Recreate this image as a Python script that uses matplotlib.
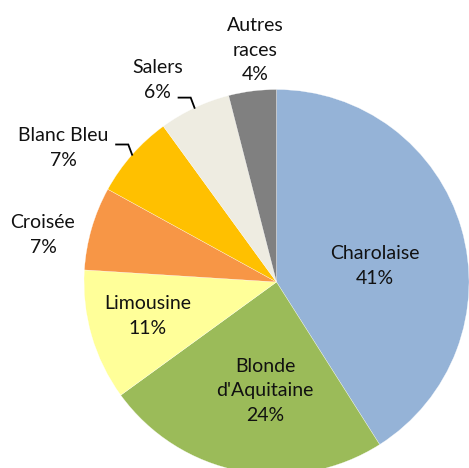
import numpy as np
import matplotlib
matplotlib.use("Agg")
import matplotlib.pyplot as plt

# races bovines, part en %
races = ["Charolaise", "Blonde\nd'Aquitaine", "Limousine", "Croisée",
         "Blanc Bleu", "Salers", "Autres\nraces"]
parts = [41, 24, 11, 7, 7, 6, 4]
couleurs = ["#95B3D7", "#9BBB59", "#FFFF99", "#F79646",
            "#FFC000", "#EEECE1", "#808080"]

# position des etiquettes (unites du rayon) et lignes de rappel
pos_labels = [(0.51, 0.083), (-0.06, -0.566), (-0.668, -0.177),
              (-1.213, 0.244), (-1.109, 0.696), (-0.616, 1.049),
              (-0.112, 1.205)]
avec_rappel = [False, False, False, False, True, True, False]

plt.rcParams['font.family'] = ['Lato', 'DejaVu Sans']

W, H = 469, 468
fig = plt.figure(figsize=(W / 100, H / 100), dpi=100)
R = 192.5
cx, cy = 276.5, H - 282
ax = fig.add_axes([(cx - R) / W, (cy - R) / H, 2 * R / W, 2 * R / H])

wedges, _ = ax.pie(parts, colors=couleurs, startangle=90, counterclock=False,
                   radius=1, wedgeprops=dict(edgecolor="white", linewidth=0.2))
ax.set_xlim(-1, 1)
ax.set_ylim(-1, 1)
ax.set_aspect("equal")
ax.axis("off")

for w, nom, p, (x, y), rappel in zip(wedges, races, parts, pos_labels, avec_rappel):
    ax.text(x, y, f"{nom}\n{p}%", ha="center", va="center", fontsize=14,
            color="#111111", linespacing=1.55, clip_on=False)
    if rappel:
        a = np.deg2rad((w.theta1 + w.theta2) / 2)
        x0, y0 = np.cos(a), np.sin(a)
        xs = [x0 - 0.083, x0 - 0.02, x0]
        ys = [y0 + 0.053, y0 + 0.053, y0]
        ax.plot(xs, ys, color="black", lw=1.3, clip_on=False,
                solid_joinstyle="miter")

fig.savefig("out.png", dpi=100)
